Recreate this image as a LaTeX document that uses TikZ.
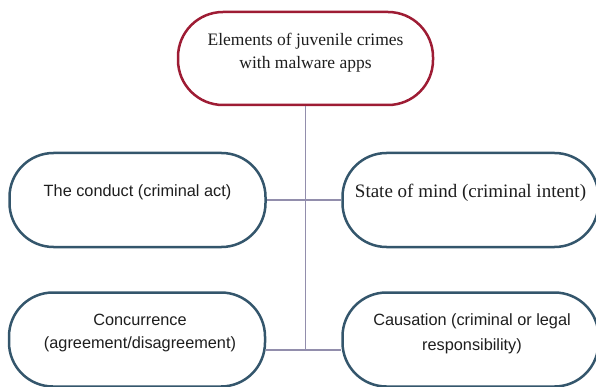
\documentclass[tikz,border=0pt]{standalone}
\usepackage{fontspec}
\setmainfont{Liberation Serif}
\setsansfont{Liberation Sans}
\begin{document}
\begin{tikzpicture}[x=1pt,y=-1pt,
  rootbox/.style={draw=rootred, line width=2.5pt, rounded corners=45pt, fill=white,
    minimum width=255pt, minimum height=93pt, inner sep=0pt},
  leafbox/.style={draw=leafblue, line width=2.5pt, rounded corners=44pt, fill=white,
    minimum width=256pt, minimum height=94pt, inner sep=0pt},
  conn/.style={draw=connline, line width=1.6pt},
  serifl/.style={font=\fontsize{17.5}{23}\selectfont, text=textgrey, align=center, inner sep=0pt},
  sansl/.style={font=\sffamily\fontsize{16.3}{23}\selectfont, text=textgrey, align=center, inner sep=0pt}]
\definecolor{rootred}{RGB}{158,28,52}
\definecolor{leafblue}{RGB}{52,86,108}
\definecolor{connline}{RGB}{146,142,172}
\definecolor{textgrey}{RGB}{30,30,30}

\useasboundingbox (0,0) rectangle (596,387);

% junction points on the central trunk
\coordinate (j1) at (305.5,200);
\coordinate (j2) at (305.5,350);

% boxes
\node[rootbox] (top) at (305.5,58.5) {};
\node[leafbox] (ul) at (137.5,200) {};
\node[leafbox] (ur) at (470.5,200) {};
\node[leafbox] (ll) at (137,339.5) {};
\node[leafbox] (lr) at (470.5,339.5) {};

% connectors
\draw[conn] (top) -- (j2);
\draw[conn] (ul) -- (ur);
\draw[conn] (ll.east |- j2) -- (lr.west |- j2);

% labels
\node[serifl] (ttop) at (305.5,53) {Elements of juvenile crimes\\with malware apps};
\node[sansl] (tul) at (137.5,192) {The conduct (criminal act)};
\node[serifl, font=\fontsize{19}{23}\selectfont] (tur) at (470.5,193) {State of mind (criminal intent)};
\node[sansl] (tll) at (140,333) {Concurrence\\(agreement/disagreement)};
\node[sansl, font=\sffamily\fontsize{16.3}{25}\selectfont] (tlr) at (472,334) {Causation (criminal or legal\\responsibility)};
\end{tikzpicture}
\end{document}
